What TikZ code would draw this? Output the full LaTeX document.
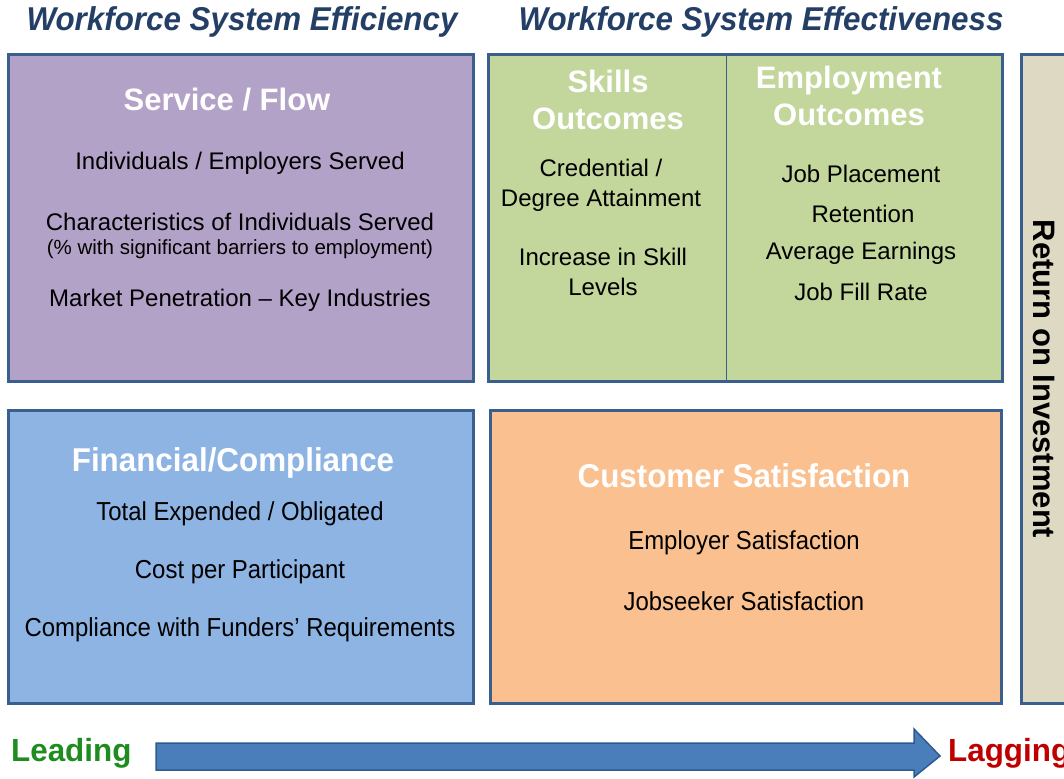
\documentclass[tikz,border=0pt]{standalone}
\usepackage{fontspec}
\setmainfont{Liberation Sans}
\usepackage{graphicx}
\definecolor{bordercol}{HTML}{3A5F8F}
\definecolor{purplefill}{HTML}{B3A2C7}
\definecolor{greenfill}{HTML}{C3D69B}
\definecolor{bluefill}{HTML}{8EB4E3}
\definecolor{orangefill}{HTML}{FAC090}
\definecolor{roifill}{HTML}{DDD9C3}
\definecolor{titlecol}{HTML}{243F66}
\definecolor{arrowfill}{HTML}{4A7EBB}
\definecolor{arrowline}{HTML}{2E5A8C}
\definecolor{leadcol}{HTML}{1E8C1E}
\definecolor{lagcol}{HTML}{C00000}
\newcommand{\nar}[1]{\scalebox{0.92}[1]{#1}}
\begin{document}
\begin{tikzpicture}[x=1pt,y=-1pt,
  panel/.style={draw=bordercol, line width=3pt, rectangle, inner sep=0pt, outer sep=0pt},
  hdr/.style={text=white, font=\fontsize{31}{37}\selectfont\bfseries, inner sep=0pt, align=center},
  item/.style={text=black, font=\fontsize{24}{30}\selectfont, inner sep=0pt, align=center},
  lowitem/.style={text=black, font=\fontsize{26}{30}\selectfont, inner sep=0pt, align=center},
  ttl/.style={text=titlecol, font=\fontsize{33}{36}\selectfont\bfseries\itshape, inner sep=0pt}]
\useasboundingbox (0,0) rectangle (1064,778);
% titles
\node[ttl] (t1) at (242,22) {\scalebox{0.95}[1]{Workforce System Efficiency}};
\node[ttl] (t2) at (761,22) {\scalebox{0.95}[1]{Workforce System Effectiveness}};
% panels
\node[panel, fill=purplefill, minimum width=465pt, minimum height=326pt] (sf) at (240.5,218) {};
\node[panel, fill=greenfill, minimum width=514pt, minimum height=326pt] (out) at (745,218) {};
\node[panel, fill=roifill, minimum width=60pt, minimum height=648pt] (roi) at (1051,379) {};
\node[panel, fill=bluefill, minimum width=465pt, minimum height=293pt] (fc) at (240.5,556.5) {};
\node[panel, fill=orangefill, minimum width=511pt, minimum height=293pt] (cs) at (745.5,556.5) {};
\coordinate (divt) at (726,56);
\coordinate (divb) at (726,380);
\draw[bordercol, line width=1pt] (divt) -- (divb);
% service / flow
\node[hdr] (sfh) at (227,100) {Service / Flow};
\node[item] (sf1) at (240,163) {Individuals / Employers Served};
\node[item] (sf2) at (240,222) {Characteristics of Individuals Served};
\node[item, font=\fontsize{20.5}{24}\selectfont] (sf3) at (240,249) {(\% with significant barriers to employment)};
\node[item] (sf4) at (240,300) {Market Penetration -- Key Industries};
% skills outcomes
\node[hdr] (soh) at (608,100) {Skills\\Outcomes};
\node[item] (so1) at (601,185) {Credential /\\Degree Attainment};
\node[item] (so2) at (603,272) {Increase in Skill\\Levels};
% employment outcomes
\node[hdr] (eoh) at (849,96) {Employment\\Outcomes};
\node[item] (eo1) at (861,174) {Job Placement};
\node[item] (eo2) at (863,214) {Retention};
\node[item] (eo3) at (861,253) {Average Earnings};
\node[item] (eo4) at (861,292) {Job Fill Rate};
% financial
\node[hdr, font=\fontsize{33}{37}\selectfont\bfseries] (fch) at (233,463) {\scalebox{0.95}[1]{Financial/Compliance}};
\node[lowitem] (fc1) at (240,514) {\nar{Total Expended / Obligated}};
\node[lowitem] (fc2) at (240,572) {\nar{Cost per Participant}};
\node[lowitem] (fc3) at (240,630) {\nar{Compliance with Funders' Requirements}};
% customer satisfaction
\node[hdr, font=\fontsize{33}{37}\selectfont\bfseries] (csh) at (744,476) {\scalebox{0.95}[1]{Customer Satisfaction}};
\node[lowitem] (cs1) at (744,543) {\nar{Employer Satisfaction}};
\node[lowitem] (cs2) at (744,601) {\nar{Jobseeker Satisfaction}};
% ROI
\node[text=black, font=\fontsize{31}{34}\selectfont\bfseries, inner sep=0pt, rotate=-90] (roit) at (1044,379) {Return on Investment};
% arrow
\draw[draw=arrowline, fill=arrowfill, line width=1.5pt, line join=miter]
  (156,743) -- (914,743) -- (914,729) -- (940,756) -- (914,777) -- (914,770) -- (156,770) -- cycle;
\node[text=leadcol, font=\fontsize{32}{34}\selectfont\bfseries, inner sep=0pt, anchor=west] (lead) at (11,753) {\scalebox{0.98}[1]{Leading}};
\node[text=lagcol, font=\fontsize{32}{34}\selectfont\bfseries, inner sep=0pt, anchor=west] (lag) at (948,753) {\scalebox{0.98}[1]{Lagging}};
\end{tikzpicture}
\end{document}
